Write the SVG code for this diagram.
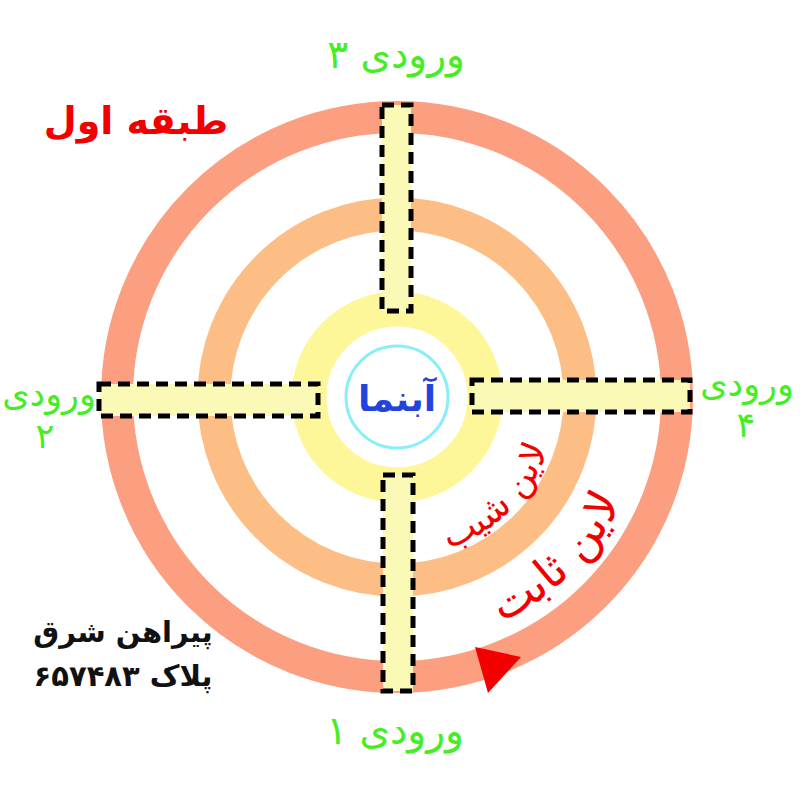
<svg xmlns="http://www.w3.org/2000/svg" xmlns:xlink="http://www.w3.org/1999/xlink" width="800" height="800" viewBox="0 0 800 800">
<style>
.ring{fill:none}
.entry{fill:#FAFAB6;stroke:#000;stroke-width:5;stroke-dasharray:12 7}
.green{fill:#44EE22;font-family:"DejaVu Sans",sans-serif;font-size:39px;text-anchor:middle}
.side{font-size:35px}
.red{fill:#F20000;font-family:"DejaVu Sans",sans-serif;text-anchor:middle}
.black{fill:#111;font-family:"DejaVu Sans",sans-serif;font-size:29px;font-weight:bold;text-anchor:middle}
</style>
<defs>
<path id="arcInner" d="M 430.3 553.5 A 160 160 0 0 0 553.5 430.3"/>
<path id="arcOuter" d="M 448.6 639.6 A 248 248 0 0 0 639.6 448.6"/>
</defs>
<rect width="800" height="800" fill="#fff"/>
<g id="rings">
<circle class="ring" cx="397" cy="397" r="280" stroke="#FC9F80" stroke-width="32"/>
<circle class="ring" cx="397" cy="397" r="183" stroke="#FDBE85" stroke-width="33"/>
<circle class="ring" cx="397" cy="397" r="88" stroke="#FEF79A" stroke-width="35"/>
</g>
<g id="center">
<circle cx="397" cy="397" r="51" fill="#fff" stroke="#88EEF8" stroke-width="3"/>
<text x="397" y="411" fill="#2244DD" font-family="DejaVu Sans,sans-serif" font-size="36" font-weight="bold" text-anchor="middle">آبنما</text>
</g>
<g id="entry3"><rect class="entry" x="382" y="105" width="29" height="206"/></g>
<g id="entry2"><rect class="entry" x="99" y="384" width="219" height="32"/></g>
<g id="entry4"><rect class="entry" x="472" y="380" width="218" height="32"/></g>
<g id="entry1"><rect class="entry" x="383" y="475" width="30" height="216"/></g>
<g id="arrow"><polygon points="475,647 521,657 488,693" fill="#F20000"/></g>
<g id="labels">
<text class="green" x="396" y="68">ورودی ۳</text>
<text class="green side" x="49" y="406">ورودی</text>
<text class="green side" x="45" y="448">۲</text>
<text class="green side" x="747" y="396">ورودی</text>
<text class="green side" x="746" y="437">۴</text>
<text class="green" x="395" y="744">ورودی ۱</text>
<text class="red" x="136" y="134" font-size="38" font-weight="bold">طبقه اول</text>
<text class="red" font-size="36"><textPath xlink:href="#arcInner" href="#arcInner" startOffset="50%">لاین شیب</textPath></text>
<text class="red" font-size="46"><textPath xlink:href="#arcOuter" href="#arcOuter" startOffset="50%">لاین ثابت</textPath></text>
<text class="black" x="123" y="642">پیراهن شرق</text>
<text class="black" x="123" y="686" font-size="31">پلاک ۶۵۷۴۸۳</text>
</g>
</svg>
